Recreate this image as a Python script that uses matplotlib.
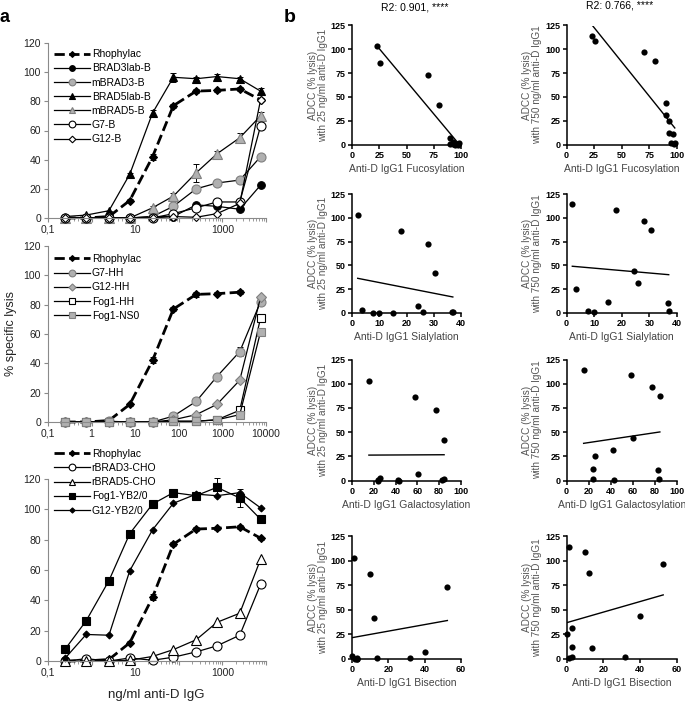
import numpy as np
import matplotlib
matplotlib.use('Agg')
import matplotlib.pyplot as plt
from matplotlib.ticker import LogLocator, NullFormatter

plt.rcParams['font.family'] = ['Liberation Sans', 'DejaVu Sans']

# ---- panel a: dose-response ----
doses = [0.25, 0.75, 2.5, 7.5, 25, 75, 250, 750, 2500, 7500]

rhophylac = [0, 0, 1, 12, 42, 77, 87, 87.5, 88.5, 81]
rhophylac_err = [0, 0, 0, 1, 2, 1.5, 1.5, 1, 1.5, 1]

# top
brad3lab_b = [0, 0, 0, 0, 1, 1, 9, 8, 6, 22.5]
mbrad3_b = [0, 0, 0, 0, 1, 8, 20, 24, 26, 42]
brad5lab_b = [1, 2, 5, 30, 72, 96.5, 95.5, 97, 95.5, 87]
brad5lab_b_err = [0, 0, 0, 1, 2, 3, 1, 2, 1, 2]
mbrad5_b = [0, 0, 0, 0, 7, 15, 31, 44, 55, 70]
mbrad5_b_err = [0, 0, 0, 0, 1, 2, 6, 2, 3.5, 3]
g7_b = [0, 0, 0, 0, 0, 3, 7, 11, 11, 63]
g12_b = [0, 0, 0, 0, 0, 1, 0.5, 3, 10, 81]

# middle
g7_hh = [0, 0, 0.5, 0, 0, 4, 14, 31, 48, 82]
g7_hh_err = [0, 0, 0, 0, 0, 0, 1, 1, 3, 2]
g12_hh = [0, 0, 0, 0, 0, 1.5, 5, 12, 28.5, 85]
fog1_hh = [0, 0, 0, 0, 0, 0.5, 0.5, 1.5, 8, 71]
fog1_ns0 = [0, 0, 0, 0, 0, 0.5, 0.5, 1.5, 5, 61.5]

# bottom
rbrad3_cho = [0, 1.5, 0, 2, 0.5, 2.5, 6, 10, 17, 50.5]
rbrad5_cho = [0, 0, 0, 0.5, 3, 7.5, 14, 25.5, 31.5, 67]
fog1_yb20 = [8, 26.5, 53, 84, 103.5, 111, 109, 114.5, 107.5, 93.5]
fog1_yb20_err = [0, 0, 0, 0, 0, 1.5, 1, 6, 6, 1]
g12_yb20 = [2, 17.5, 17, 59.5, 86.5, 104, 110, 109, 111, 101]

# ---- panel b: glycosylation vs ADCC (12 antibodies) ----
fucosylation = [23, 25.5, 70, 80, 90, 93, 94.5, 97, 93, 90, 96, 98]
sialylation = [2.1, 18, 28, 30.5, 24.3, 3.6, 7.8, 9.8, 15, 26, 36.8, 37]
galactosylation = [15.5, 58, 77, 84.5, 60.2, 26, 24, 43, 24, 42.5, 83, 84]
bisection = [1.2, 10, 52.5, 12.2, 40, 0.2, 3, 1.5, 2.8, 2.8, 13.8, 32]
adcc_25 = [103, 86, 73, 42, 7, 2.8, 0, 0, 0.5, 0.7, 0.7, 1.5]
adcc_750 = [114, 108.5, 97, 87.5, 44, 25, 2, 1, 12, 31, 11, 2]

W, H = 685, 702
fig = plt.figure(figsize=(W / 100, H / 100), dpi=100)


def px_axes(x0, y0, x1, y1):
    return fig.add_axes([x0 / W, 1 - y1 / H, (x1 - x0) / W, (y1 - y0) / H])


GRAY = '#b0b0b0'
GRAY_E = '#808080'
AX_C = '#8a8a8a'


def curve(ax, y, label, marker, fc, ec='black', ms=5.5, err=None, dashed=False):
    n = len(y)
    x = doses[:n]
    if err is not None:
        ax.errorbar(x, y, yerr=err, fmt='none', ecolor='black', capsize=2,
                    elinewidth=0.7, capthick=0.7, clip_on=False)
    ax.plot(x, y, color='black', lw=2 if dashed else 0.9,
            ls='--' if dashed else '-', marker=marker, mfc=fc, mec=ec,
            ms=ms, mew=0.8, label=label, clip_on=False)


def style_a(ax, xlabels):
    ax.set_xscale('log')
    ax.set_xlim(0.1, 10000)
    ax.set_ylim(0, 120)
    ax.set_yticks(range(0, 121, 20))
    ax.set_xticks([0.1, 1, 10, 100, 1000, 10000])
    ax.set_xticklabels(xlabels)
    ax.xaxis.set_minor_locator(LogLocator(base=10, subs=np.arange(2, 10)))
    ax.xaxis.set_minor_formatter(NullFormatter())
    for s in ['top', 'right']:
        ax.spines[s].set_visible(False)
    for s in ['left', 'bottom']:
        ax.spines[s].set_color(AX_C)
        ax.spines[s].set_linewidth(0.8)
    ax.tick_params(direction='out', length=3, color=AX_C, labelsize=7.5,
                   labelcolor='#222222', pad=2)
    ax.tick_params(which='minor', length=2, color=AX_C)


lab2 = ['0,1', '', '10', '', '1000', '']
lab1 = ['0,1', '1', '10', '100', '1000', '10000']
leg_kw = dict(frameon=False, fontsize=7.5, handlelength=3.4, labelspacing=0.4,
              handletextpad=0.2, borderaxespad=0.2, markerscale=0.75)

ax1 = px_axes(48, 43, 266, 218)
curve(ax1, rhophylac, 'Rhophylac', 'D', 'black', ms=4, err=rhophylac_err, dashed=True)
curve(ax1, brad3lab_b, 'BRAD3lab-B', 'o', 'black')
curve(ax1, mbrad3_b, 'mBRAD3-B', 'o', GRAY, GRAY_E, ms=6.5)
curve(ax1, brad5lab_b, 'BRAD5lab-B', '^', 'black', ms=6, err=brad5lab_b_err)
curve(ax1, mbrad5_b, 'mBRAD5-B', '^', GRAY, GRAY_E, ms=6.5, err=mbrad5_b_err)
curve(ax1, g7_b, 'G7-B', 'o', 'white', ms=6.5)
curve(ax1, g12_b, 'G12-B', 'D', 'white', ms=4.5)
style_a(ax1, lab2)
ax1.legend(loc='upper left', bbox_to_anchor=(0, 1.0), **leg_kw)

ax2 = px_axes(48, 246, 266, 422)
curve(ax2, rhophylac[:9], 'Rhophylac', 'D', 'black', ms=4, err=rhophylac_err[:9], dashed=True)
curve(ax2, g7_hh, 'G7-HH', 'o', GRAY, GRAY_E, ms=6.5, err=g7_hh_err)
curve(ax2, g12_hh, 'G12-HH', 'D', GRAY, GRAY_E, ms=4.8)
curve(ax2, fog1_hh, 'Fog1-HH', 's', 'white', ms=5.5)
curve(ax2, fog1_ns0, 'Fog1-NS0', 's', GRAY, GRAY_E, ms=5.5)
style_a(ax2, lab1)
ax2.legend(loc='upper left', bbox_to_anchor=(0, 0.99), **leg_kw)

ax3 = px_axes(48, 479, 266, 661)
curve(ax3, rhophylac, 'Rhophylac', 'D', 'black', ms=4, err=rhophylac_err, dashed=True)
curve(ax3, rbrad3_cho, 'rBRAD3-CHO', 'o', 'white', ms=6.5)
curve(ax3, rbrad5_cho, 'rBRAD5-CHO', '^', 'white', ms=6.5)
curve(ax3, fog1_yb20, 'Fog1-YB2/0', 's', 'black', ms=6, err=fog1_yb20_err)
curve(ax3, g12_yb20, 'G12-YB2/0', 'D', 'black', ms=3.5)
style_a(ax3, lab2)
ax3.legend(loc='upper left', bbox_to_anchor=(0, 1.2), **leg_kw)

fig.text(11 / W, 1 - 334 / H, '% specific lysis', rotation=90, ha='center',
         va='center', fontsize=9, color='#222222')
fig.text(156 / W, 1 - 695 / H, 'ng/ml anti-D IgG', ha='center', va='center',
         fontsize=9.5, color='#222222')
fig.text(5 / W, 1 - 18 / H, 'a', fontsize=13, fontweight='bold', ha='center', va='center')
fig.text(290 / W, 1 - 17 / H, 'b', fontsize=14, fontweight='bold', ha='center', va='center')


def scatter_panel(ax, x, y, xmax, xstep, xlabel, ylabel):
    x = np.array(x, dtype=float)
    y = np.array(y, dtype=float)
    ax.scatter(x, y, s=20, color='black', zorder=3, clip_on=False, linewidths=0)
    k, b = np.polyfit(x, y, 1)
    xx = np.array([x.min(), x.max()])
    ax.plot(xx, k * xx + b, color='black', lw=1)
    ax.set_xlim(0, xmax)
    ax.set_ylim(0, 125)
    ax.set_xticks(np.arange(0, xmax + 1, xstep))
    ax.set_yticks(range(0, 126, 25))
    for s in ['top', 'right']:
        ax.spines[s].set_visible(False)
    for s in ['left', 'bottom']:
        ax.spines[s].set_linewidth(1.1)
    ax.tick_params(direction='out', length=3, width=1.1, labelsize=6.5, pad=1.5)
    for lab in ax.get_xticklabels() + ax.get_yticklabels():
        lab.set_fontweight('bold')
    ax.set_xlabel(xlabel, fontsize=7.5, color='#444444', labelpad=3)
    ax.set_ylabel(ylabel, fontsize=7.2, color='#555555', labelpad=2, linespacing=1.0)


rows = [(25.5, 144.5), (194, 313), (359.5, 480.5), (536, 659)]
cols = [(352, 461), (566.5, 677)]
traits = [(fucosylation, 100, 25, 'Anti-D IgG1 Fucosylation'),
          (sialylation, 40, 10, 'Anti-D IgG1 Sialylation'),
          (galactosylation, 100, 20, 'Anti-D IgG1 Galactosylation'),
          (bisection, 60, 20, 'Anti-D IgG1 Bisection')]
responses = [(adcc_25, 'ADCC (% lysis)\nwith 25 ng/ml anti-D IgG1'),
             (adcc_750, 'ADCC (% lysis)\nwith 750 ng/ml anti-D IgG1')]

for (y0, y1), (xv, xmax, xstep, xl) in zip(rows, traits):
    for (x0, x1), (yv, yl) in zip(cols, responses):
        ax = px_axes(x0, y0, x1, y1)
        scatter_panel(ax, xv, yv, xmax, xstep, xl, yl)

fig.text(415 / W, 1 - 7 / H, 'R2: 0.901, ****', ha='center', va='center', fontsize=7.5)
fig.text(620 / W, 1 - 6 / H, 'R2: 0.766, ****', ha='center', va='center', fontsize=7.5)

plt.savefig('out.png', dpi=100)
